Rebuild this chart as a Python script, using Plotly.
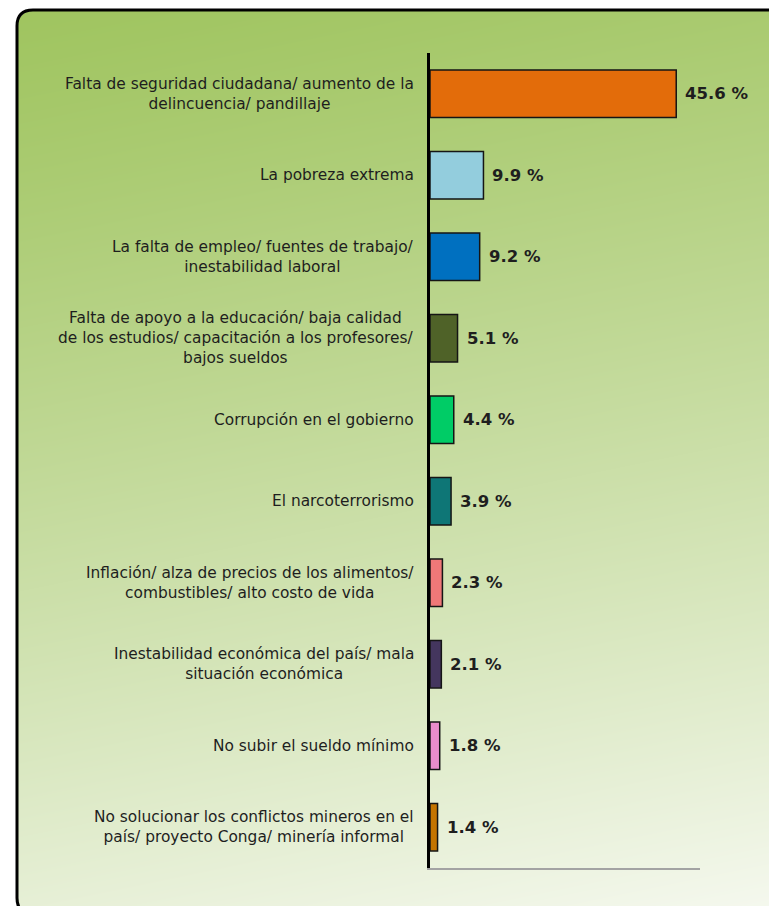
import base64
import struct
import zlib

import numpy as np
import plotly.graph_objects as go

W, H = 769, 906

categories = [
    "Falta de seguridad ciudadana/ aumento de la<br>delincuencia/ pandillaje",
    "La pobreza extrema",
    "La falta de empleo/ fuentes de trabajo/<br>inestabilidad laboral",
    "Falta de apoyo a la educación/ baja calidad<br>de los estudios/ capacitación a los profesores/<br>bajos sueldos",
    "Corrupción en el gobierno",
    "El narcoterrorismo",
    "Inflación/ alza de precios de los alimentos/<br>combustibles/ alto costo de vida",
    "Inestabilidad económica del país/ mala<br>situación económica",
    "No subir el sueldo mínimo",
    "No solucionar los conflictos mineros en el<br>país/ proyecto Conga/ minería informal",
]
values = [45.6, 9.9, 9.2, 5.1, 4.4, 3.9, 2.3, 2.1, 1.8, 1.4]
bar_colors = ["#e36c0a", "#93cddd", "#0070c0", "#4f6228", "#00cc66",
              "#0e7676", "#ef7878", "#44365e", "#e98ccb", "#c47400"]

TEXT = "#1e1e1e"
FONT = "DejaVu Sans"


def gradient_png(w, h, radius):
    """Green-to-pale gradient with rounded left corners, as a data URI."""
    yy, xx = np.mgrid[0:h, 0:w]
    t = 0.85 * (yy / (h - 1)) + 0.15 * (xx / (w - 1))
    t = np.clip(t, 0, 1) ** 1.15
    c0 = np.array([160, 197, 96], float)
    c1 = np.array([246, 249, 240], float)
    rgb = c0 + (c1 - c0) * t[..., None]
    alpha = np.full((h, w), 255.0)
    for cy in (radius, h - 1 - radius):
        d = np.hypot(xx - radius, yy - cy)
        band = (xx < radius) & ((yy < radius) if cy == radius else (yy > cy))
        alpha[band & (d > radius)] = 0
    img = np.dstack([rgb, alpha]).astype(np.uint8)
    raw = b"".join(b"\x00" + img[r].tobytes() for r in range(h))

    def chunk(tag, data):
        c = struct.pack(">I", len(data)) + tag + data
        return c + struct.pack(">I", zlib.crc32(tag + data) & 0xFFFFFFFF)

    png = b"\x89PNG\r\n\x1a\n"
    png += chunk(b"IHDR", struct.pack(">IIBBBBB", w, h, 8, 6, 0, 0, 0))
    png += chunk(b"IDAT", zlib.compress(raw, 9))
    png += chunk(b"IEND", b"")
    return "data:image/png;base64," + base64.b64encode(png).decode()


def px(x, y):
    return f"{x / W:.5f},{1 - y / H:.5f}"


# frame edges in pixels (bottom edge sits just below the page)
bx0, by0, bx1, by1, r = 17, 10, 790, 914, 16
border = (f"M{px(bx1, by0)} L{px(bx0 + r, by0)} Q{px(bx0, by0)} {px(bx0, by0 + r)} "
          f"L{px(bx0, by1 - r)} Q{px(bx0, by1)} {px(bx0 + r, by1)} L{px(bx1, by1)}")

fig = go.Figure(go.Bar(
    x=values, y=categories, orientation="h",
    width=0.58,
    marker=dict(color=bar_colors, line=dict(color="#151515", width=1.5)),
    hoverinfo="x+y",
))

for cat, val in zip(categories, values):
    fig.add_annotation(x=0, y=cat, text=cat, showarrow=False,
                       xanchor="right", align="center", xshift=-14,
                       font=dict(family=FONT, size=15.4, color=TEXT))
    fig.add_annotation(x=val, y=cat, text=f"<b>{val:.1f} %</b>", showarrow=False,
                       xanchor="left", xshift=7,
                       font=dict(family=FONT, size=16.5, color=TEXT))

fig.add_layout_image(dict(
    source=gradient_png(bx1 - bx0, by1 - by0, r),
    xref="paper", yref="paper", x=bx0 / W, y=1 - by0 / H,
    sizex=(bx1 - bx0) / W, sizey=(by1 - by0) / H,
    sizing="stretch", xanchor="left", yanchor="top", layer="below",
))
fig.add_shape(type="path", path=border, xref="paper", yref="paper",
              line=dict(color="#000000", width=3), layer="above")

fig.update_layout(
    width=W, height=H,
    margin=dict(l=0, r=0, t=0, b=0),
    paper_bgcolor="#ffffff",
    plot_bgcolor="rgba(0,0,0,0)",
    showlegend=False,
    font=dict(family=FONT, color=TEXT),
    xaxis=dict(domain=[430 / W, 700 / W], range=[0, 50], showgrid=False,
               zeroline=False, showticklabels=False, ticks="",
               showline=True, linecolor="#a3a3a3", linewidth=2),
    yaxis=dict(domain=[(H - 868) / H, (H - 53) / H], autorange="reversed",
               categoryorder="array", categoryarray=categories,
               showgrid=False, zeroline=False, showticklabels=False, ticks="",
               showline=True, linecolor="#000000", linewidth=3),
)

fig.write_html("out.html", config={"displayModeBar": False},
               post_script="document.body.style.margin='0';"
                           "document.body.style.overflow='hidden';")
